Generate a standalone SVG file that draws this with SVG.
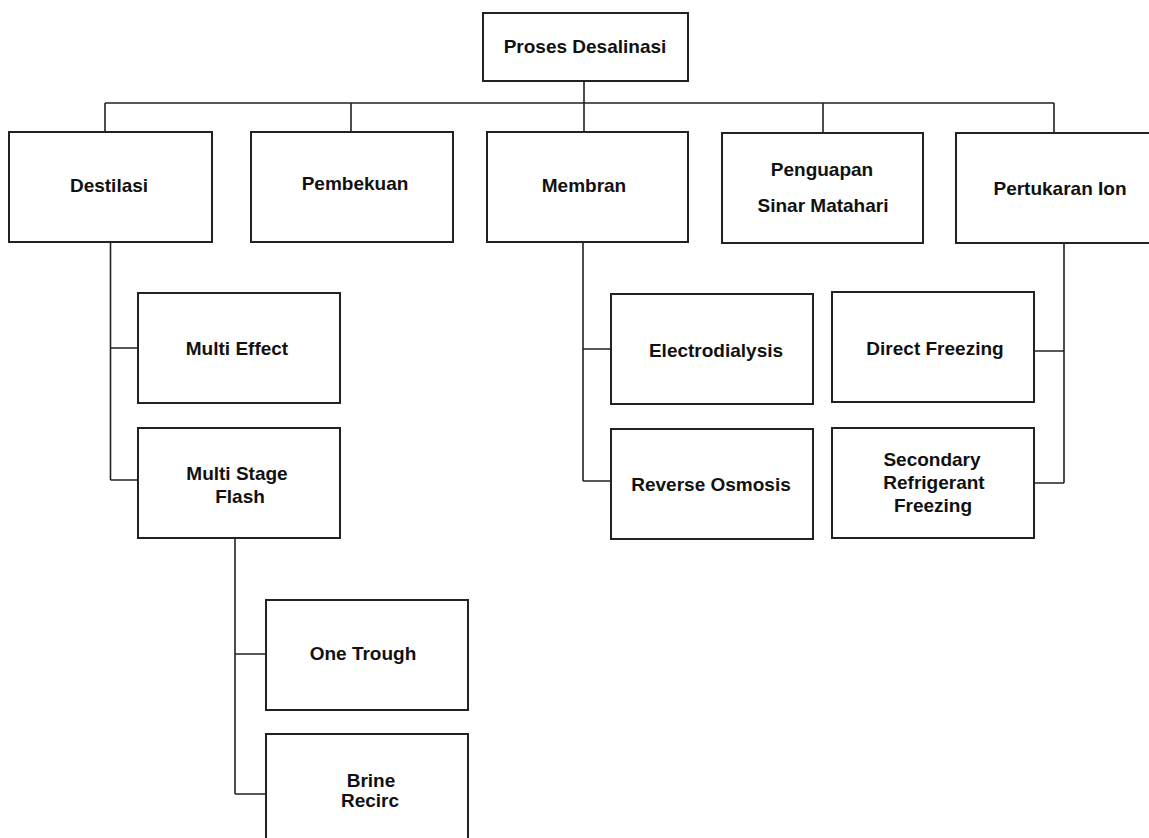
<svg xmlns="http://www.w3.org/2000/svg" width="1149" height="838" viewBox="0 0 1149 838">
<style>
.box{fill:#fff;stroke:#222;stroke-width:2}
.c{fill:none;stroke:#222;stroke-width:1.6}
text{font-family:"Liberation Sans",Arial,sans-serif;font-weight:bold;font-size:19px;fill:#111;text-anchor:middle}
</style>
<rect width="1149" height="838" fill="#fff"/>
<g id="connectors">
<path class="c" d="M584 81V132M105 103H1054M105 103V132M351 103V132M823 103V133M1054 103V133"/>
<path class="c" d="M110.5 242V480M110.5 348H138M110.5 480H138"/>
<path class="c" d="M235 538V794M235 654H266M235 794H266"/>
<path class="c" d="M583 242V481M583 349H611M583 481H611"/>
<path class="c" d="M1064 243V483M1064 351H1034M1064 483H1034"/>
</g>
<g id="root"><rect class="box" x="483" y="13" width="205" height="68"/><text x="585" y="53">Proses Desalinasi</text></g>
<g id="destilasi"><rect class="box" x="9" y="132" width="203" height="110"/><text x="109" y="192">Destilasi</text></g>
<g id="pembekuan"><rect class="box" x="251" y="132" width="202" height="110"/><text x="355" y="190">Pembekuan</text></g>
<g id="membran"><rect class="box" x="487" y="132" width="201" height="110"/><text x="584" y="192">Membran</text></g>
<g id="penguapan"><rect class="box" x="722" y="133" width="201" height="110"/><text x="822" y="176">Penguapan</text><text x="823" y="212">Sinar Matahari</text></g>
<g id="pertukaran"><rect class="box" x="956" y="133" width="204" height="110"/><text x="1060" y="195">Pertukaran Ion</text></g>
<g id="multi-effect"><rect class="box" x="138" y="293" width="202" height="110"/><text x="237" y="355">Multi Effect</text></g>
<g id="msf"><rect class="box" x="138" y="428" width="202" height="110"/><text x="237" y="480">Multi Stage</text><text x="240" y="503">Flash</text></g>
<g id="electrodialysis"><rect class="box" x="611" y="294" width="202" height="110"/><text x="716" y="357">Electrodialysis</text></g>
<g id="reverse-osmosis"><rect class="box" x="611" y="429" width="202" height="110"/><text x="711" y="491">Reverse Osmosis</text></g>
<g id="direct-freezing"><rect class="box" x="832" y="292" width="202" height="110"/><text x="935" y="355">Direct Freezing</text></g>
<g id="secondary"><rect class="box" x="832" y="428" width="202" height="110"/><text x="932" y="466">Secondary</text><text x="934" y="489">Refrigerant</text><text x="933" y="512">Freezing</text></g>
<g id="one-trough"><rect class="box" x="266" y="600" width="202" height="110"/><text x="363" y="660">One Trough</text></g>
<g id="brine"><rect class="box" x="266" y="734" width="202" height="110"/><text x="371" y="787">Brine</text><text x="370" y="807">Recirc</text></g>
</svg>
